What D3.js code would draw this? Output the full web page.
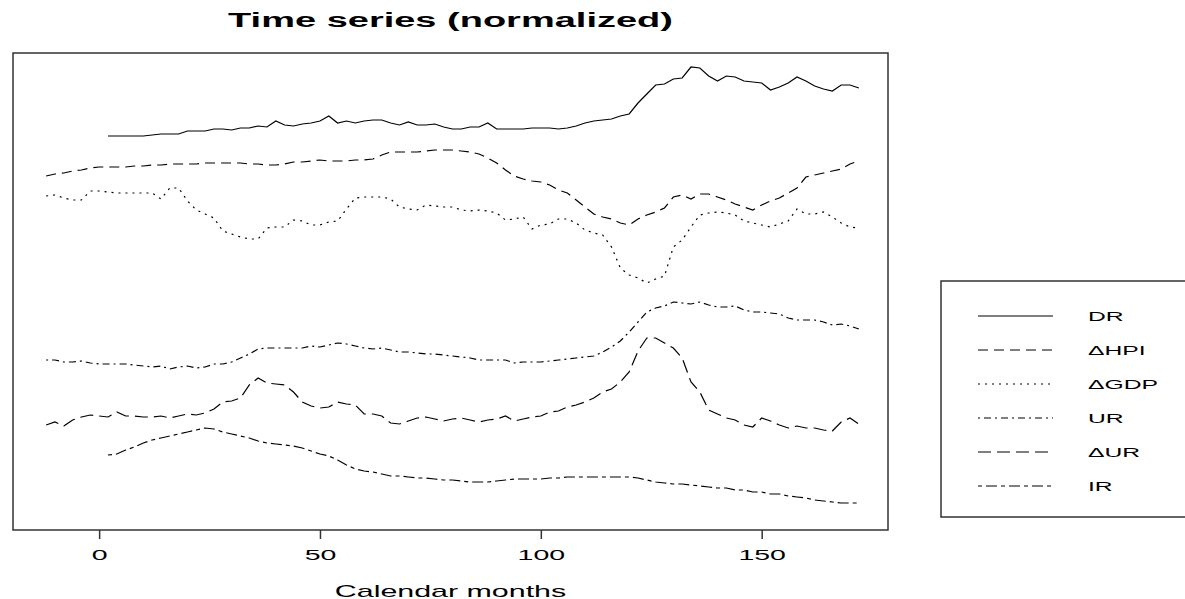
<!DOCTYPE html>
<html>
<head>
<meta charset="utf-8">
<script src="https://cdn.jsdelivr.net/npm/d3@7/dist/d3.min.js"></script>
<style>
body { margin: 0; background: #fff; }
svg { display: block; font-family: "Liberation Sans", Arial, sans-serif; }
</style>
</head>
<body>
<svg></svg>
<script>
const width = 1185;
const height = 599;
const margin = {top: 53, right: 297, bottom: 69, left: 13};
const stretch = 1.9; // the source picture is squeezed wide, text too

// months, every 2nd month
const monthStep = 2;
const longStart = -12; // lagged series
const shortStart = 2;  // DR and IR

const seriesNames = ["DR", "\u0394HPI", "\u0394GDP", "UR", "\u0394UR", "IR"];

const dr = [3.94,3.94,3.94,3.94,3.94,3.95,3.96,3.96,3.96,3.99,
  3.99,3.99,4.01,4.01,4.00,4.02,4.02,4.04,4.03,4.09,
  4.05,4.04,4.06,4.07,4.09,4.14,4.07,4.09,4.07,4.09,
  4.10,4.10,4.07,4.05,4.08,4.05,4.05,4.06,4.03,4.01,
  4.01,4.03,4.03,4.07,4.01,4.01,4.01,4.01,4.02,4.02,
  4.02,4.01,4.02,4.04,4.07,4.09,4.10,4.11,4.14,4.16,
  4.27,4.36,4.45,4.46,4.51,4.52,4.63,4.62,4.54,4.49,
  4.54,4.53,4.49,4.48,4.47,4.40,4.43,4.47,4.53,4.49,
  4.44,4.41,4.39,4.45,4.45,4.42];

const hpi = [3.54,3.56,3.57,3.59,3.60,3.62,3.63,3.63,3.63,3.63,
  3.64,3.64,3.65,3.65,3.66,3.66,3.66,3.66,3.67,3.67,
  3.67,3.67,3.67,3.66,3.66,3.65,3.65,3.66,3.68,3.68,
  3.69,3.70,3.69,3.69,3.69,3.70,3.70,3.71,3.75,3.78,
  3.78,3.78,3.78,3.79,3.80,3.80,3.80,3.79,3.78,3.76,
  3.72,3.67,3.60,3.54,3.51,3.49,3.48,3.45,3.40,3.37,
  3.30,3.23,3.16,3.13,3.11,3.07,3.05,3.11,3.15,3.18,
  3.22,3.33,3.35,3.31,3.36,3.36,3.33,3.30,3.26,3.23,
  3.20,3.25,3.29,3.32,3.37,3.42,3.53,3.55,3.57,3.59,
  3.61,3.66,3.69];

const gdp = [3.34,3.35,3.32,3.30,3.30,3.39,3.39,3.38,3.37,3.37,
  3.37,3.37,3.37,3.31,3.42,3.42,3.29,3.20,3.16,3.12,
  2.99,2.96,2.93,2.91,2.91,3.02,3.03,3.03,3.10,3.09,
  3.05,3.05,3.08,3.09,3.21,3.32,3.33,3.33,3.33,3.31,
  3.23,3.21,3.20,3.25,3.24,3.23,3.23,3.20,3.19,3.20,
  3.19,3.17,3.10,3.11,3.13,3.01,3.05,3.06,3.11,3.11,
  3.07,3.00,2.97,2.95,2.83,2.62,2.55,2.52,2.47,2.51,
  2.54,2.83,2.90,3.03,3.15,3.17,3.18,3.17,3.15,3.09,
  3.07,3.05,3.03,3.06,3.09,3.21,3.16,3.16,3.18,3.13,
  3.07,3.03,3.02];

const ur = [1.70,1.70,1.68,1.68,1.69,1.67,1.66,1.66,1.66,1.66,
  1.65,1.64,1.63,1.64,1.61,1.63,1.64,1.62,1.63,1.66,
  1.66,1.68,1.72,1.76,1.81,1.82,1.82,1.82,1.82,1.82,
  1.84,1.83,1.85,1.87,1.86,1.84,1.82,1.81,1.82,1.80,
  1.78,1.78,1.77,1.76,1.76,1.75,1.74,1.73,1.72,1.70,
  1.70,1.70,1.70,1.67,1.68,1.68,1.68,1.69,1.70,1.71,
  1.72,1.73,1.74,1.78,1.83,1.89,1.98,2.08,2.18,2.22,
  2.24,2.28,2.27,2.26,2.28,2.25,2.23,2.23,2.24,2.20,
  2.18,2.18,2.17,2.16,2.12,2.10,2.10,2.10,2.08,2.05,
  2.06,2.04,2.01];

const dur = [1.05,1.08,1.04,1.10,1.13,1.15,1.14,1.13,1.18,1.14,
  1.14,1.13,1.13,1.14,1.12,1.14,1.16,1.15,1.17,1.21,
  1.28,1.29,1.32,1.45,1.52,1.47,1.46,1.45,1.38,1.28,
  1.24,1.22,1.23,1.28,1.26,1.25,1.16,1.16,1.14,1.07,
  1.06,1.09,1.12,1.13,1.11,1.09,1.11,1.12,1.10,1.08,
  1.10,1.11,1.14,1.09,1.11,1.13,1.14,1.18,1.19,1.23,
  1.25,1.28,1.32,1.38,1.41,1.48,1.58,1.79,1.92,1.92,
  1.87,1.82,1.72,1.48,1.38,1.20,1.16,1.12,1.10,1.05,
  1.03,1.12,1.09,1.05,1.02,1.04,1.02,1.02,1.00,0.99,
  1.08,1.12,1.06];

const ir = [0.75,0.76,0.80,0.83,0.87,0.90,0.92,0.94,0.96,0.98,
  1.00,1.02,1.01,0.98,0.96,0.94,0.92,0.89,0.87,0.86,
  0.85,0.84,0.82,0.79,0.76,0.74,0.70,0.65,0.61,0.59,
  0.58,0.56,0.54,0.54,0.53,0.52,0.52,0.51,0.50,0.50,
  0.49,0.48,0.48,0.48,0.49,0.50,0.51,0.51,0.51,0.51,
  0.52,0.52,0.53,0.53,0.53,0.53,0.53,0.53,0.53,0.53,
  0.52,0.50,0.48,0.47,0.46,0.46,0.45,0.44,0.43,0.42,
  0.42,0.40,0.40,0.38,0.38,0.36,0.36,0.34,0.33,0.32,
  0.30,0.29,0.28,0.27,0.27,0.27];

const xTicks = [0, 50, 100, 150];

// R line types 1..6, stretched
const dashes = ["none", "10,6", "2,5", "2,4,7,4", "13,6", "4,4,11,4"];

const series = [
  {name: seriesNames[0], start: shortStart, values: dr},
  {name: seriesNames[1], start: longStart, values: hpi},
  {name: seriesNames[2], start: longStart, values: gdp},
  {name: seriesNames[3], start: longStart, values: ur},
  {name: seriesNames[4], start: longStart, values: dur},
  {name: seriesNames[5], start: shortStart, values: ir}
];

const svg = d3.select('svg')
  .attr("width", width)
  .attr("height", height);

const xScale = d3.scaleLinear()
  .domain([-19.5, 178.6])
  .range([margin.left, width - margin.right]);

const yScale = d3.scaleLinear()
  .domain([0, 4.77])
  .range([height - margin.bottom, margin.top]);

const line = d3.line()
  .x(d => xScale(d[0]))
  .y(d => yScale(d[1]));

series.forEach((s, k) => {
  const pts = s.values.map((v, i) => [s.start + i * monthStep, v]);
  svg.append("path")
    .datum(pts)
    .attr("d", line)
    .attr("fill", "none")
    .attr("stroke", "#000")
    .attr("stroke-width", 1.2)
    .attr("stroke-dasharray", dashes[k]);
});

// box
svg.append("rect")
  .attr("x", margin.left)
  .attr("y", margin.top)
  .attr("width", width - margin.left - margin.right)
  .attr("height", height - margin.top - margin.bottom)
  .attr("fill", "none")
  .attr("stroke", "#333")
  .attr("stroke-width", 1.5);

// x axis
const xAxis = d3.axisBottom(xScale)
  .tickValues(xTicks)
  .tickSize(9)
  .tickFormat(d3.format("d"));

const gx = svg.append("g")
  .attr("transform", `translate(0,${height - margin.bottom})`)
  .call(xAxis);

gx.select(".domain").remove();
gx.selectAll(".tick line").attr("stroke", "#333").attr("stroke-width", 1.5);
gx.selectAll(".tick text")
  .attr("y", 30)
  .attr("dy", 0)
  .attr("fill", "#000")
  .style("font-size", "15px")
  .style("font-family", "'Liberation Sans', Arial, sans-serif")
  .attr("transform", `scale(${stretch},1)`);

// title
svg.append("text")
  .attr("transform", `translate(${(margin.left + width - margin.right) / 2},27) scale(${stretch},1)`)
  .attr("text-anchor", "middle")
  .style("font-size", "20px")
  .style("font-weight", "bold")
  .text("Time series (normalized)");

svg.append("text")
  .attr("transform", `translate(${(margin.left + width - margin.right) / 2},597) scale(${stretch},1)`)
  .attr("text-anchor", "middle")
  .style("font-size", "16px")
  .text("Calendar months");

// legend
const legend = svg.append("g")
  .attr("transform", "translate(941,281)");

legend.append("rect")
  .attr("width", 270)
  .attr("height", 236)
  .attr("fill", "#fff")
  .attr("stroke", "#333")
  .attr("stroke-width", 1.5);

const rows = legend.selectAll(".row")
  .data(series)
  .enter()
  .append("g")
  .attr("transform", (d, i) => `translate(0,${35 + i * 34})`);

rows.append("line")
  .attr("x1", 37)
  .attr("x2", 112)
  .attr("stroke", "#000")
  .attr("stroke-width", 1.2)
  .attr("stroke-dasharray", (d, i) => dashes[i]);

rows.append("text")
  .attr("transform", `translate(147,5) scale(${stretch},1)`)
  .style("font-size", "13px")
  .text(d => d.name);
</script>
</body>
</html>
